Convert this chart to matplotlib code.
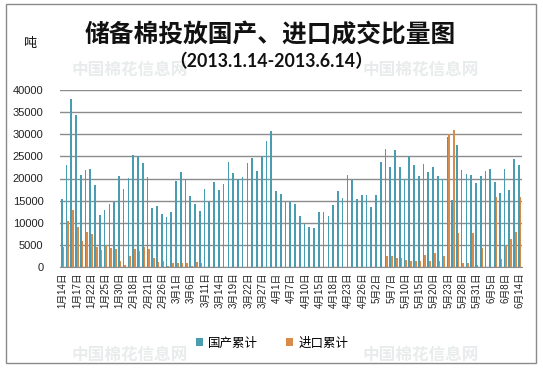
import matplotlib
matplotlib.use("Agg")
import matplotlib.pyplot as plt
import numpy as np
from matplotlib.patches import Rectangle, Patch

plt.rcParams['font.family'] = ['Liberation Sans', 'Noto Sans CJK SC']

# ---------------- data ----------------
months_days = {
    1: [14, 15, 16, 17, 18, 21, 22, 23, 24, 25, 28, 29, 30, 31],
    2: [1, 18, 19, 20, 21, 22, 25, 26, 27, 28],
    3: [1, 4, 5, 6, 7, 8, 11, 12, 13, 14, 15, 18, 19, 20, 21, 22, 25, 26, 27, 28, 29],
    4: [1, 2, 3, 7, 8, 9, 10, 11, 12, 15, 16, 17, 18, 19, 22, 23, 24, 25, 26, 27, 28],
    5: [2, 3, 6, 7, 8, 9, 10, 13, 14, 15, 16, 17, 20, 21, 22, 23, 24, 27, 28, 29, 30, 31],
    6: [3, 4, 5, 6, 7, 8, 9, 13, 14],
}
categories = [f"{m}月{d}日" for m, ds in months_days.items() for d in ds]

domestic = [15400, 23100, 38000, 34400, 20800, 22000, 22200, 18500, 11800, 12900,
            14300, 14600, 20600, 17700, 20100, 25300, 25000, 23500, 20400, 13400,
            13800, 12000, 11200, 12400, 19400, 21400, 19900, 16100, 14300, 12700,
            17700, 14600, 19200, 17400, 18800, 23800, 21300, 19900, 20400, 23500,
            24700, 21700, 25000, 28500, 30800, 17200, 16500, 14600, 14900, 14300,
            11500, 9800, 9100, 8800, 12400, 12400, 11500, 14000, 17200, 15500,
            20800, 19700, 15400, 16300, 16300, 13600, 16300, 23800, 26700, 22600,
            26500, 22600, 19900, 25000, 23100, 20600, 23300, 21500, 22600, 20600,
            19900, 29400, 15200, 27600, 22000, 21000, 20800, 18900, 20600, 21700,
            22200, 19200, 16700, 22200, 17400, 24400, 23100]

imported = [4500, 10300, 12900, 9100, 5900, 8000, 7500, 4600, 3900, 4900,
            4200, 4100, 1400, 450, 2400, 4100, 3600, 4500, 4100, 2000,
            1100, 1400, 230, 900, 900, 830, 900, 230, 1100, 900,
            0, 0, 0, 0, 0, 0, 0, 0, 0, 0,
            0, 0, 0, 0, 0, 0, 0, 0, 0, 0,
            0, 0, 0, 0, 0, 0, 0, 0, 0, 0,
            0, 0, 0, 0, 0, 0, 0, 0, 2500, 2400,
            2000, 2000, 1600, 1400, 1400, 1400, 2700, 1400, 3200, 1400,
            2500, 30000, 31000, 7700, 900, 900, 7700, 450, 4300, 0,
            0, 15800, 1900, 5000, 6300, 7900, 15800]

series_names = ["国产累计", "进口累计"]
yticks = [0, 5000, 10000, 15000, 20000, 25000, 30000, 35000, 40000]
title = "储备棉投放国产、进口成交比量图"
subtitle = "（2013.1.14-2013.6.14）"
unit = "吨"

# ---------------- figure ----------------
W, H = 543, 369
fig = plt.figure(figsize=(W / 100, H / 100), dpi=100)
fig.patch.set_facecolor('white')

# watermarks
wm_color = '#e9ecec'
for (x, y) in [(130, 70), (421, 70), (130, 355), (421, 355)]:
    fig.text(x / W, 1 - y / H, "中国棉花信息网", ha='center', va='center',
             fontsize=12, fontweight='bold', color=wm_color,
             family=['Noto Sans CJK SC'], zorder=0)

# frame border
fig.add_artist(Rectangle((6 / W, 1 - 363 / H), (536 - 6) / W, (363 - 4) / H,
                         transform=fig.transFigure, fill=False,
                         edgecolor='#8a8a8a', linewidth=1.0))

left, right, top, bottom = 60.2, 522.0, 90.0, 267.0
ax = fig.add_axes([left / W, 1 - bottom / H, (right - left) / W, (bottom - top) / H])
ax.set_facecolor('none')

n = len(categories)
x = np.arange(n)
bw = 0.35
blue = '#4A9CB0'
orange = '#D98C4A'
ax.bar(x - bw / 2, domestic, width=bw, color=blue, zorder=3, linewidth=0)
ax.bar(x + bw / 2, imported, width=bw, color=orange, zorder=3, linewidth=0)

ax.set_xlim(-0.5, n - 0.5)
ax.set_ylim(0, 40000)
ax.set_yticks(yticks)
ax.set_yticklabels([str(v) for v in yticks], fontsize=8, color='#222222')
ax.yaxis.grid(True, color='#8c8c8c', linewidth=1.0, zorder=0)
ax.set_axisbelow(True)
for s in ['left', 'right', 'top']:
    ax.spines[s].set_visible(False)
ax.spines['bottom'].set_color('#8c8c8c')
ax.tick_params(axis='y', length=0, pad=12)
ax.tick_params(axis='x', length=0, pad=4)

tick_idx = list(range(0, n, 3))
ax.set_xticks(tick_idx)
ax.set_xticklabels([categories[i] for i in tick_idx], rotation=90, fontsize=7,
                   color='#222222')

# titles
fig.text(270 / W, 1 - 36 / H, title, ha='center', va='center', fontsize=17.8,
         fontweight='bold', family=['Noto Sans CJK SC'], color='#111111')
fig.text(271 / W, 1 - 62 / H, subtitle, ha='center', va='center', fontsize=12.8,
         fontweight='bold', family=['Lato', 'Noto Sans CJK SC'], color='#111111')
fig.text(30 / W, 1 - 44 / H, unit, ha='center', va='center', fontsize=9.5,
         family=['Noto Sans CJK SC'], color='#111111')

handles = [Patch(facecolor=blue, edgecolor='none'), Patch(facecolor=orange, edgecolor='none')]
fig.legend(handles, series_names, loc='center', bbox_to_anchor=(272 / W, 1 - 343 / H),
           ncol=2, frameon=False, handlelength=0.6, handleheight=0.6,
           handletextpad=0.4, columnspacing=2.2, prop={'family': ['Noto Sans CJK SC'], 'size': 9})

fig.savefig("out.png", dpi=100, facecolor='white')
